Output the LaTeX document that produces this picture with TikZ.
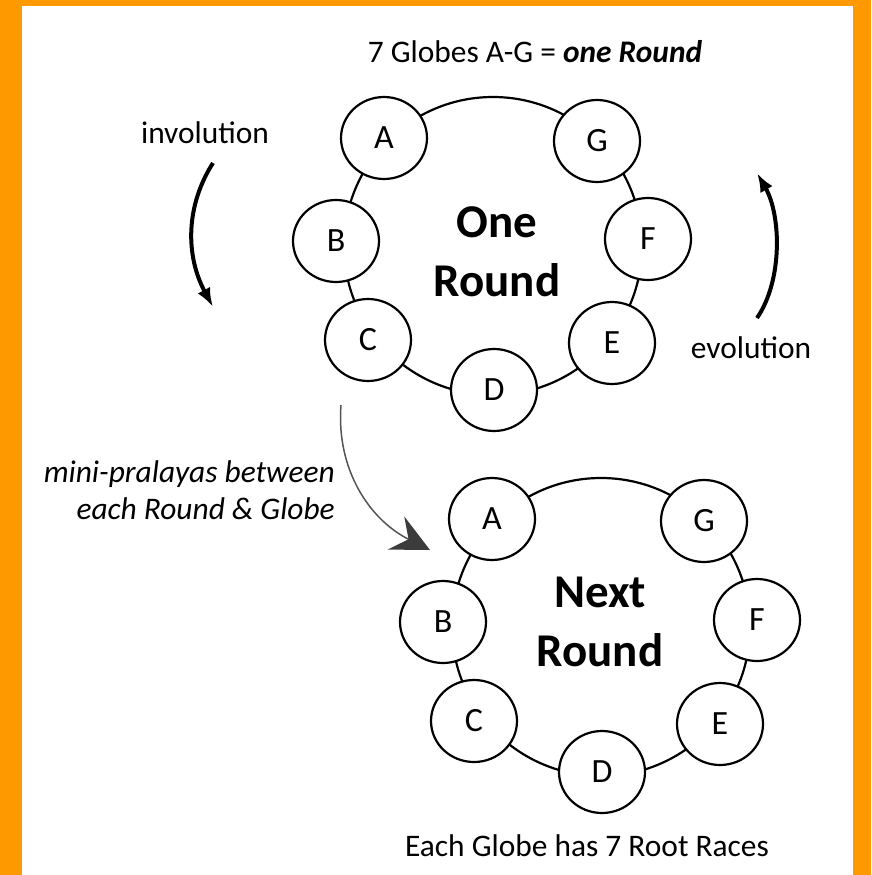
\documentclass[tikz,border=0pt]{standalone}
\usepackage{fontspec}
\setmainfont{Carlito}
\usetikzlibrary{arrows.meta, shapes.geometric}
\definecolor{frameorange}{RGB}{255,153,0}
\definecolor{pralayagray}{RGB}{85,85,85}
\definecolor{headgray}{RGB}{60,60,60}

\begin{document}
\begin{tikzpicture}[x = 1pt, y = -1pt]
\tikzstyle{GlobeStyle}=[
shape = ellipse,
minimum width = 86pt,
minimum height = 82pt,
inner sep = 0pt,
line width = 2.2pt,
fill = white,
font = \fontsize{34}{40}\selectfont,
draw]
\tikzstyle{RingStyle}=[
shape = circle,
minimum size = 298pt,
line width = 2.2pt,
draw]
\tikzstyle{TextStyle}=[inner sep = 0pt, font = \fontsize{31.4}{37}\selectfont]
\tikzstyle{RoundStyle}=[inner sep = 0pt, align = center, font = \bfseries\fontsize{47}{59}\selectfont]
\tikzstyle{TurnArrow}=[line width = 4pt, -{Latex[length = 19pt, width = 14pt]}]
\tikzstyle{PralayaArrow}=[line width = 1.5pt, draw = pralayagray, -{Stealth[length = 38pt, width = 37pt, inset = 14pt, color = headgray]}]
\fill[frameorange] (0,0) rectangle (871,875);
\fill[white] (22,6) rectangle (853,875);
\useasboundingbox (0,0) rectangle (871,875);
\node[RingStyle] (R1) at (493,246) {};
\node[RoundStyle] (L1) at (497,252) {One\\Round};
\node[GlobeStyle] (A1) at (384,138) {A};
\node[GlobeStyle] (B1) at (336,241) {B};
\node[GlobeStyle] (C1) at (368,340) {C};
\node[GlobeStyle] (D1) at (494,390) {D};
\node[GlobeStyle] (E1) at (612,343) {E};
\node[GlobeStyle] (F1) at (648,239) {F};
\node[GlobeStyle] (G1) at (597,141) {G};
\node[RingStyle] (R2) at (601,627) {};
\node[RoundStyle] (L2) at (600,622) {Next\\Round};
\node[GlobeStyle] (A2) at (492,519) {A};
\node[GlobeStyle] (B2) at (443,622) {B};
\node[GlobeStyle] (C2) at (474,721) {C};
\node[GlobeStyle] (D2) at (602,772) {D};
\node[GlobeStyle] (E2) at (720,724) {E};
\node[GlobeStyle] (F2) at (757,620) {F};
\node[GlobeStyle] (G2) at (704,521) {G};
\node[TextStyle, anchor = base] (title) at (535,63) {7 Globes A-G = \textbf{\textit{one Round}}};
\node[TextStyle, anchor = base] (inv) at (205,143) {involution};
\node[TextStyle, anchor = base] (evo) at (751,358) {evolution};
\node[TextStyle, anchor = base] (races) at (587,856) {Each Globe has 7 Root Races};
\node[TextStyle, anchor = east, align = right, font = \itshape\fontsize{31.4}{37}\selectfont] (mini) at (335,490) {mini-pralayas between\\each Round \& Globe};
\coordinate (inv1) at (213,163);
\coordinate (inv2) at (213,307);
\coordinate (evo1) at (757,318);
\coordinate (evo2) at (757,173);
\coordinate (p1) at (341,405);
\coordinate (p2) at (430,550);
\draw[TurnArrow] (inv1) .. controls (186,205) and (185,255) .. (inv2);
\draw[TurnArrow] (evo1) .. controls (783,280) and (781,215) .. (evo2);
\draw[PralayaArrow] (p1) .. controls (336,470) and (370,520) .. (p2);
\end{tikzpicture}
\end{document}
